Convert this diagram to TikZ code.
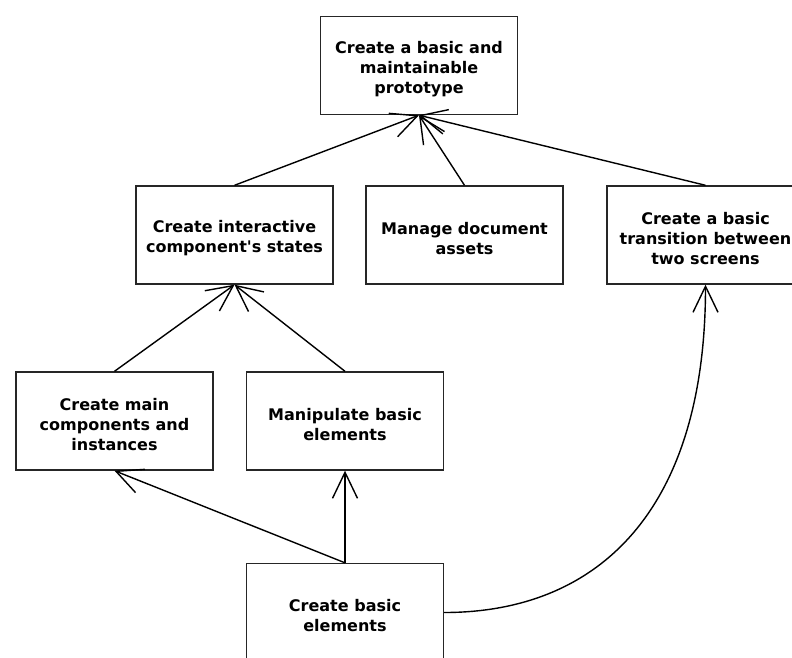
\documentclass[tikz,border=0pt]{standalone}
\usepackage{fontspec}
\setmainfont{DejaVu Sans}
\usetikzlibrary{arrows.meta}
\begin{document}
\begin{tikzpicture}[x=1pt,y=-1pt,
 box/.style={draw=black!85, line width=1.4pt, fill=white, minimum width=197pt, minimum height=98pt, inner sep=0pt,
   label={[align=center, inner sep=0pt, yshift=-3.5pt, font=\bfseries\fontsize{16}{20}\selectfont]center:{#1}}},
 conn/.style={line width=1.4pt, -{Straight Barb[length=26pt,width=25pt,line width=1.4pt]}}]
\useasboundingbox (0,0) rectangle (792,657);
\clip (0,0) rectangle (792,657);
\node[box={Create a basic and\\maintainable\\prototype}] (top) at (419,65.5) {};
\node[box={Create interactive\\component\textquotesingle s states}] (inter) at (234.5,235) {};
\node[box={Manage document\\assets}] (manage) at (464.5,235) {};
\node[box={Create a basic\\transition between\\two screens}] (trans) at (705.5,235) {};
\node[box={Create main\\components and\\instances}] (main) at (114.5,421) {};
\node[box={Manipulate basic\\elements}] (manip) at (345,421) {};
\node[box={Create basic\\elements}] (basic) at (345,612.5) {};
\draw[conn] (inter.north) -- (top.south);
\draw[conn] (manage.north) -- (top.south);
\draw[conn] (trans.north) -- (top.south);
\draw[conn] (main.north) -- (inter.south);
\draw[conn] (manip.north) -- (inter.south);
\draw[conn] (basic.north) -- (main.south);
\draw[conn] (basic.north) -- (manip.south);
\draw[conn] (basic.east) .. controls +(155,0) and +(0,225) .. (trans.south);
\end{tikzpicture}
\end{document}
